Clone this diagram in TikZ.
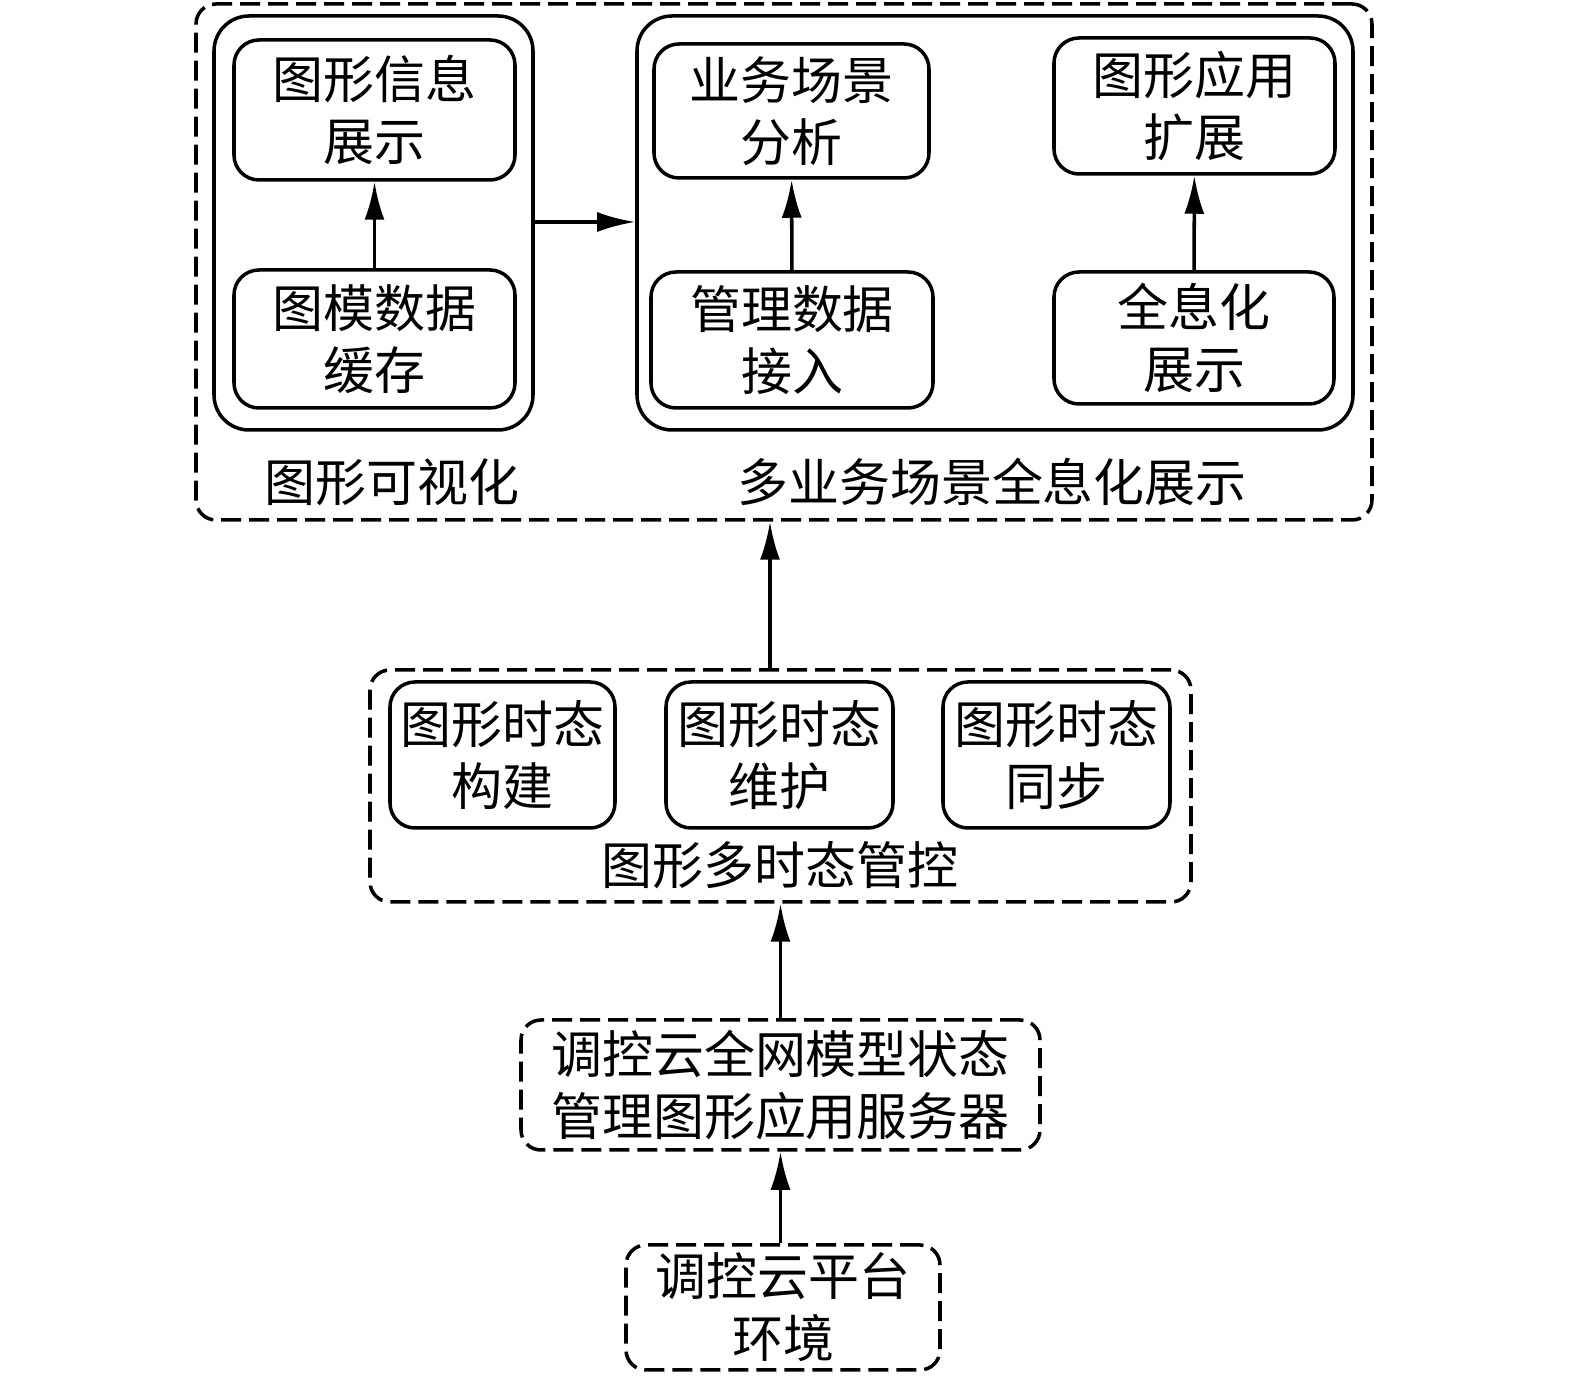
\documentclass[tikz,border=0pt]{standalone}
\usepackage{fontspec}
\setmainfont{Noto Sans CJK SC}
\usetikzlibrary{arrows.meta,calc}

\tikzset{
  box/.style={draw,line width=1pt,rounded corners=0.25cm,align=center,inner sep=0pt},
  group/.style={box,rounded corners=0.35cm},
  dbox/.style={box,dashed,dash pattern=on 0.2cm off 0.08cm,rounded corners=0.2cm},
  arr/.style={line width=1pt,-{Latex[length=0.38cm,width=0.2cm]}}
}

\begin{document}
\begin{tikzpicture}[font=\fontsize{14.5}{17.6}\selectfont]
\useasboundingbox (0,0) rectangle (15.75,-13.81);

% ========================
% TOP: visualisation and multi-scene display
% ========================

\node[dbox,minimum width=11.76cm,minimum height=5.16cm] (outer) at (7.84,-2.62) {};

% left group
\node[group,minimum width=3.19cm,minimum height=4.14cm] (vis) at (3.735,-2.23) {};
\node[box,minimum width=2.81cm,minimum height=1.40cm] (info) at (3.745,-1.10) {图形信息\\展示};
\node[box,minimum width=2.81cm,minimum height=1.38cm] (cache) at (3.745,-3.39) {图模数据\\缓存};
\node (vislbl) at (3.92,-4.82) {图形可视化};

% right group
\node[group,minimum width=7.16cm,minimum height=4.14cm] (multi) at (9.95,-2.23) {};
\node[box,minimum width=2.75cm,minimum height=1.34cm] (scene) at (7.915,-1.11) {业务场景\\分析};
\node[box,minimum width=2.82cm,minimum height=1.36cm] (access) at (7.92,-3.40) {管理数据\\接入};
\node[box,minimum width=2.81cm,minimum height=1.36cm] (ext) at (11.945,-1.06) {图形应用\\扩展};
\node[box,minimum width=2.80cm,minimum height=1.32cm] (holo) at (11.94,-3.38) {全息化\\展示};
\node (multilbl) at (9.92,-4.82) {多业务场景全息化展示};

\draw[arr] (cache) -- (info);
\draw[arr] (access) -- (scene);
\draw[arr] (holo) -- (ext);
\draw[arr] ($(vis.east)+(0,0.01)$) -- ($(multi.west)+(0,0.01)$);

% ========================
% MIDDLE: multi-state control
% ========================

\node[dbox,minimum width=8.21cm,minimum height=2.32cm] (mid) at (7.805,-7.86) {};
\node[box,minimum width=2.25cm,minimum height=1.46cm] (build) at (5.025,-7.55) {图形时态\\构建};
\node[box,minimum width=2.27cm,minimum height=1.46cm] (maint) at (7.795,-7.55) {图形时态\\维护};
\node[box,minimum width=2.27cm,minimum height=1.46cm] (sync) at (10.565,-7.55) {图形时态\\同步};
\node (midlbl) at (7.80,-8.65) {图形多时态管控};

\draw[arr] ($(mid.north)+(-0.105,0)$) -- ($(outer.south)+(-0.14,0)$);

% ========================
% BOTTOM: server and platform
% ========================

\node[dbox,minimum width=5.19cm,minimum height=1.30cm] (server) at (7.805,-10.85) {调控云全网模型状态\\管理图形应用服务器};
\node[dbox,minimum width=3.14cm,minimum height=1.25cm] (env) at (7.83,-13.075) {调控云平台\\环境};

\draw[arr] (server) -- (mid.south -| server.north);
\draw[arr] (env.north -| server.south) -- (server);

\end{tikzpicture}
\end{document}
